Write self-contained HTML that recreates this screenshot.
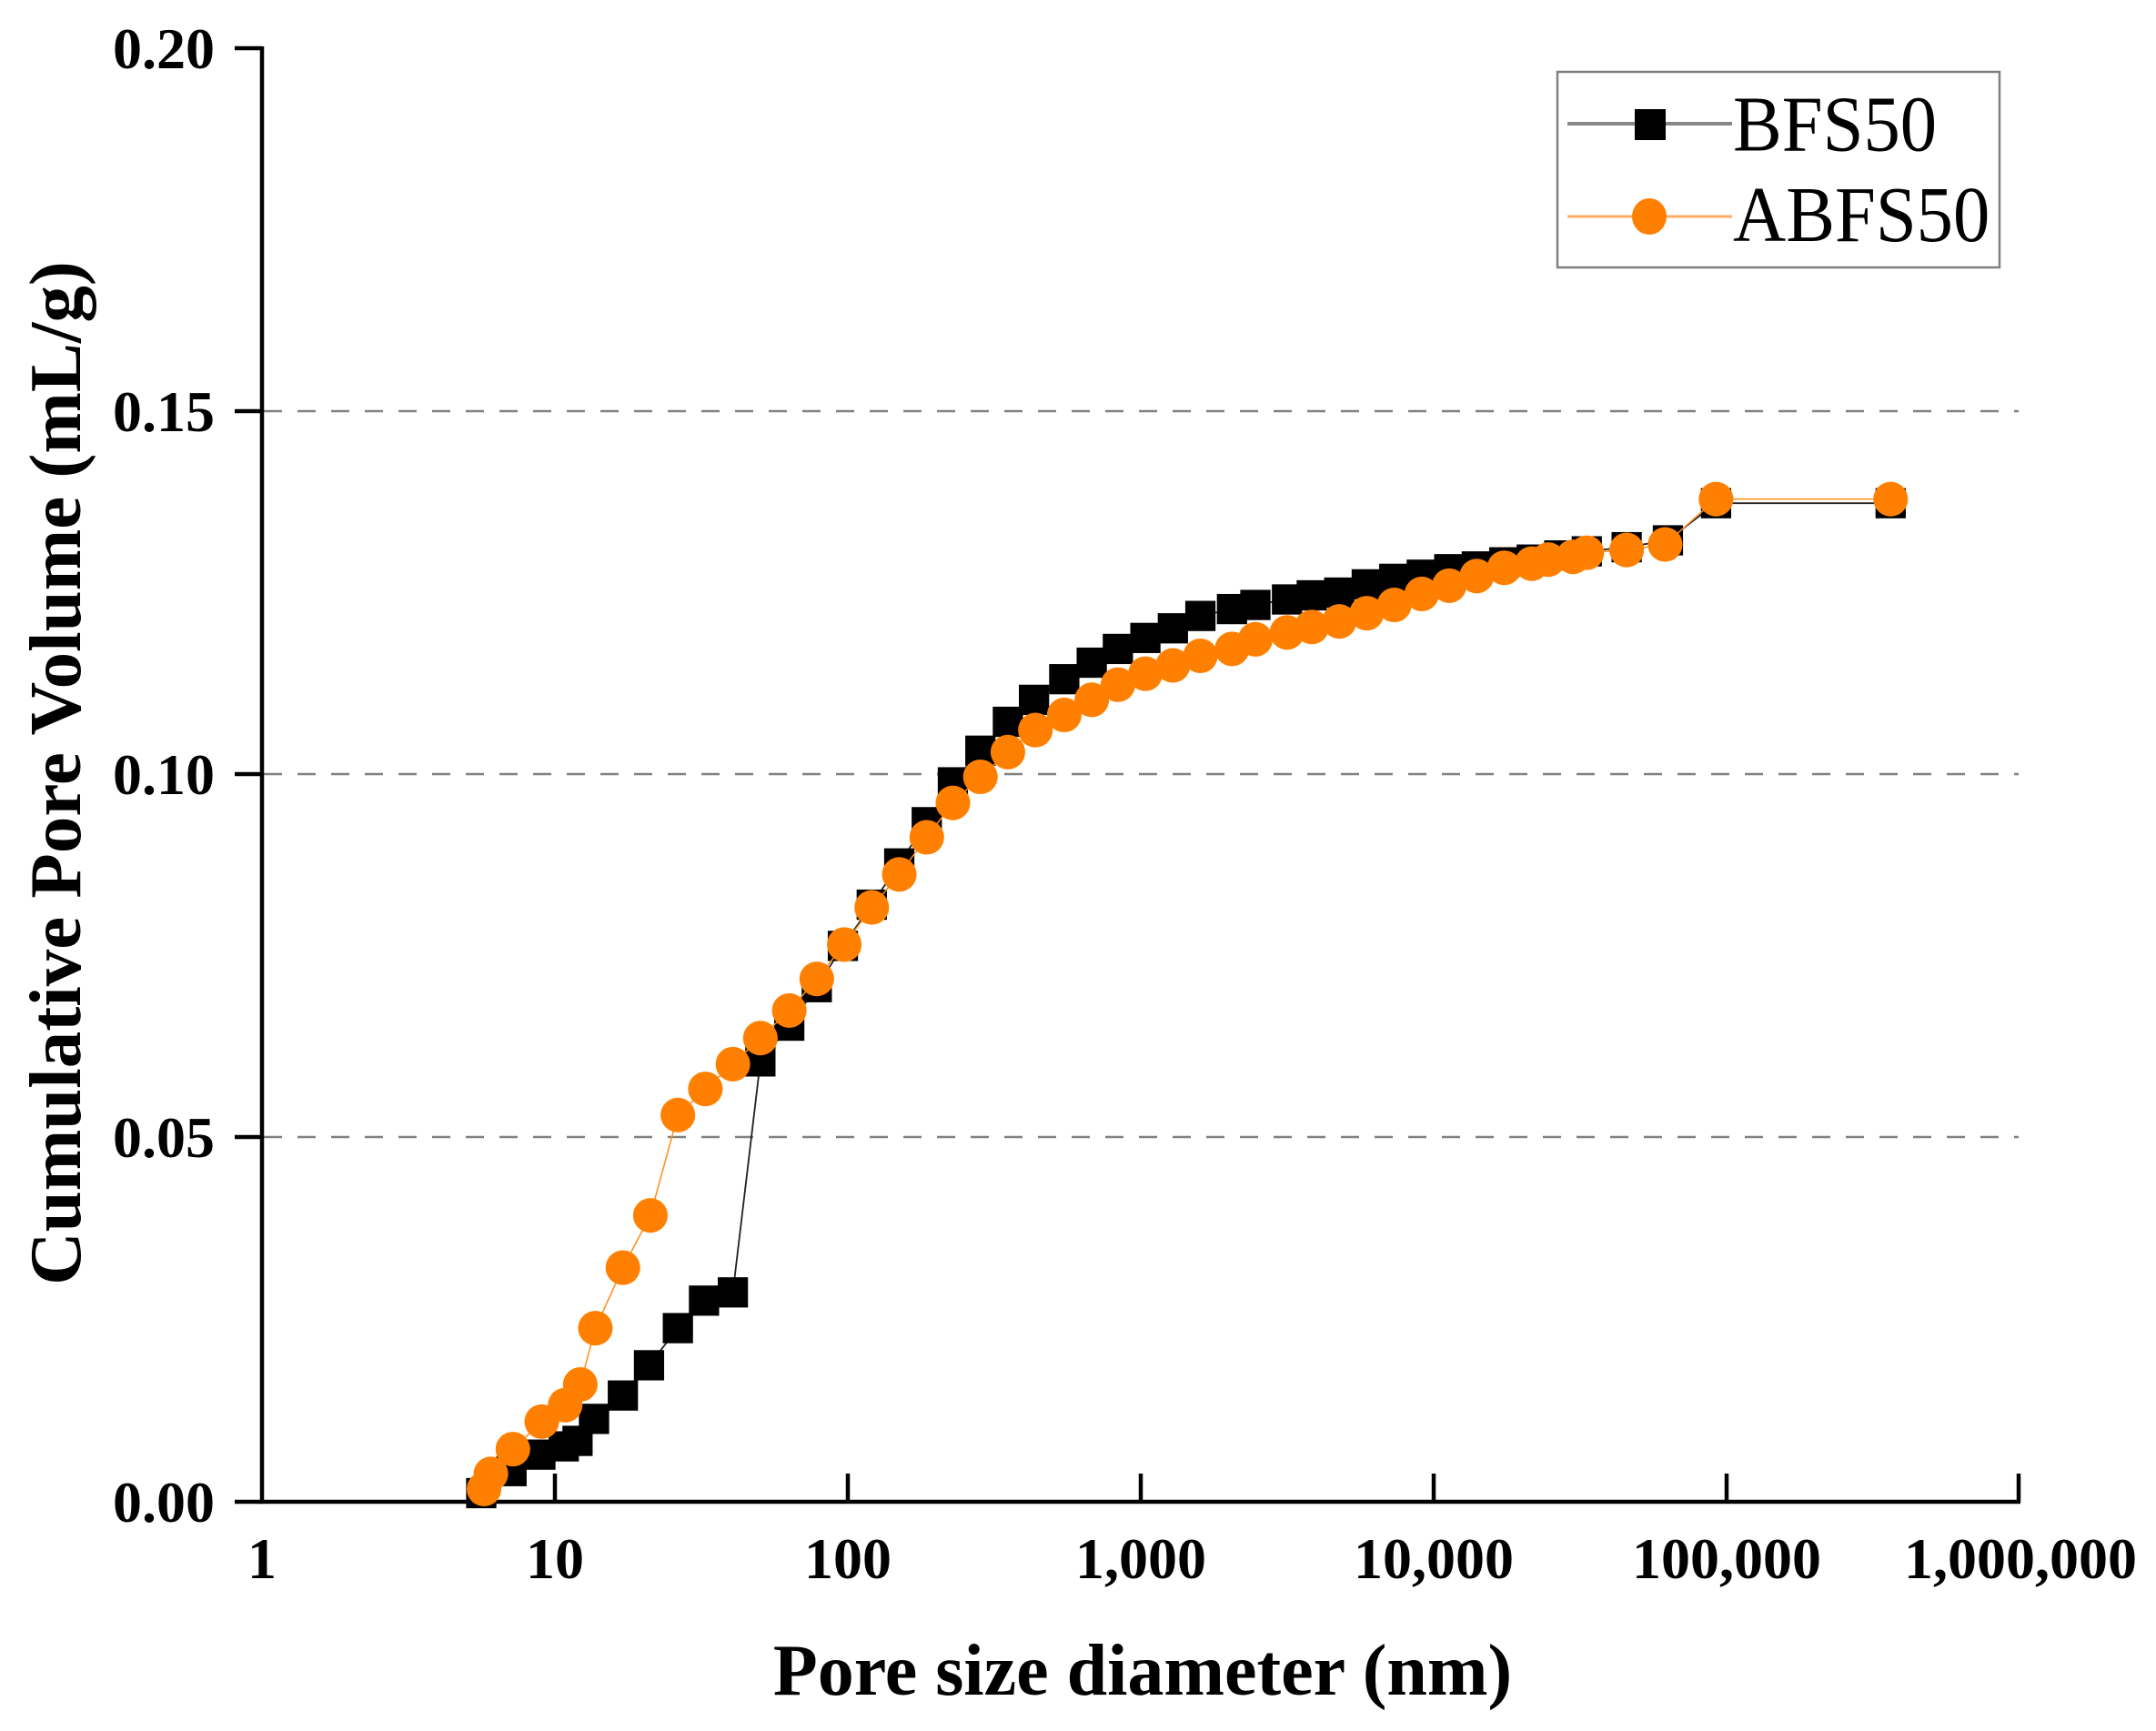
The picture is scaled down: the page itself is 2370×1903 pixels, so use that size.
<!DOCTYPE html>
<html><head><meta charset="utf-8"><style>
html,body{margin:0;padding:0;background:#fff}
svg{display:block}
text{font-family:"Liberation Serif",serif}
</style></head><body>
<svg width="2370" height="1903" viewBox="0 0 2370 1903" xmlns="http://www.w3.org/2000/svg">
<rect width="2370" height="1903" fill="#fff"/>
<g stroke="#808080" stroke-width="2.5" stroke-dasharray="20 17">
<line x1="290" y1="452" x2="2219" y2="452"/>
<line x1="290" y1="851" x2="2219" y2="851"/>
<line x1="290" y1="1250" x2="2219" y2="1250"/>
</g>
<g stroke="#000" stroke-width="4.5" fill="none">
<line x1="288" y1="51" x2="288" y2="1653"/>
<line x1="286" y1="1651" x2="2221" y2="1651"/>
<line x1="258" y1="53" x2="288" y2="53"/>
<line x1="258" y1="452" x2="288" y2="452"/>
<line x1="258" y1="851" x2="288" y2="851"/>
<line x1="258" y1="1250" x2="288" y2="1250"/>
<line x1="258" y1="1651" x2="288" y2="1651"/>
<line x1="610" y1="1651" x2="610" y2="1620"/>
<line x1="932" y1="1651" x2="932" y2="1620"/>
<line x1="1254" y1="1651" x2="1254" y2="1620"/>
<line x1="1576" y1="1651" x2="1576" y2="1620"/>
<line x1="1898" y1="1651" x2="1898" y2="1620"/>
<line x1="2219" y1="1651" x2="2219" y2="1620"/>
</g>
<g font-size="64" font-weight="bold" text-anchor="end">
<text x="236" y="75">0.20</text>
<text x="236" y="474">0.15</text>
<text x="236" y="873">0.10</text>
<text x="236" y="1272">0.05</text>
<text x="236" y="1673">0.00</text>
</g>
<g font-size="64" font-weight="bold" text-anchor="middle">
<text x="288" y="1735">1</text>
<text x="610" y="1735">10</text>
<text x="932" y="1735">100</text>
<text x="1254" y="1735">1,000</text>
<text x="1576" y="1735">10,000</text>
<text x="1898" y="1735">100,000</text>
<text x="2221" y="1735">1,000,000</text>
</g>
<text x="1256" y="1863" font-size="80" font-weight="bold" text-anchor="middle">Pore size diameter (nm)</text>
<text transform="translate(88,850) rotate(-90)" font-size="81" font-weight="bold" text-anchor="middle">Cumulative Pore Volume (mL/g)</text>
<g transform="scale(1.5115)">
<polyline fill="none" stroke="#222" stroke-width="1.2" points="350,1086 372,1070 393,1058 410,1052 420,1048 432,1032 453,1015 472,993 493,966 512,946 533,940 553,772 574,746 594,718 613,688 634,658 654,628 674,598 693,569 713,546 733,525 752,509 774,494 794,482 813,472 833,464 853,457 873,448 896,443 913,440 936,436 954,433 974,431 994,425 1014,421 1034,418 1054,414 1074,412 1094,409 1114,407 1134,404 1154,401 1183,398 1213,393 1248,366 1375,366"/>
<g fill="#000">
<rect x="339" y="1075" width="22" height="22"/><rect x="361" y="1059" width="22" height="22"/><rect x="382" y="1047" width="22" height="22"/><rect x="399" y="1041" width="22" height="22"/><rect x="409" y="1037" width="22" height="22"/><rect x="421" y="1021" width="22" height="22"/><rect x="442" y="1004" width="22" height="22"/><rect x="461" y="982" width="22" height="22"/><rect x="482" y="955" width="22" height="22"/><rect x="501" y="935" width="22" height="22"/><rect x="522" y="929" width="22" height="22"/><rect x="542" y="761" width="22" height="22"/><rect x="563" y="735" width="22" height="22"/><rect x="583" y="707" width="22" height="22"/><rect x="602" y="677" width="22" height="22"/><rect x="623" y="647" width="22" height="22"/><rect x="643" y="617" width="22" height="22"/><rect x="663" y="587" width="22" height="22"/><rect x="682" y="558" width="22" height="22"/><rect x="702" y="535" width="22" height="22"/><rect x="722" y="514" width="22" height="22"/><rect x="741" y="498" width="22" height="22"/><rect x="763" y="483" width="22" height="22"/><rect x="783" y="471" width="22" height="22"/><rect x="802" y="461" width="22" height="22"/><rect x="822" y="453" width="22" height="22"/><rect x="842" y="446" width="22" height="22"/><rect x="862" y="437" width="22" height="22"/><rect x="885" y="432" width="22" height="22"/><rect x="902" y="429" width="22" height="22"/><rect x="925" y="425" width="22" height="22"/><rect x="943" y="422" width="22" height="22"/><rect x="963" y="420" width="22" height="22"/><rect x="983" y="414" width="22" height="22"/><rect x="1003" y="410" width="22" height="22"/><rect x="1023" y="407" width="22" height="22"/><rect x="1043" y="403" width="22" height="22"/><rect x="1063" y="401" width="22" height="22"/><rect x="1083" y="398" width="22" height="22"/><rect x="1103" y="396" width="22" height="22"/><rect x="1123" y="393" width="22" height="22"/><rect x="1143" y="390" width="22" height="22"/><rect x="1172" y="387" width="22" height="22"/><rect x="1202" y="382" width="22" height="22"/><rect x="1237" y="355" width="22" height="22"/><rect x="1364" y="355" width="22" height="22"/>
</g>
<polyline fill="none" stroke="#ff8c1a" stroke-width="1" points="352,1083 357,1072 373,1054 394,1034 411,1022 422,1007 433,966 453,922 473,884 493,811 513,792 533,774 553,755 574,735 594,712 614,687 634,660 654,636 674,609 693,584 713,565 733,547 753,531 774,520 794,509 813,498 833,490 853,484 873,477 896,472 913,465 936,460 954,456 974,452 994,446 1014,440 1034,432 1054,426 1074,419 1094,413 1114,410 1126,407 1144,405 1154,402 1183,400 1211,396 1248,363 1375,363"/>
<g fill="#ff8000">
<circle cx="352" cy="1083" r="12.6"/><circle cx="357" cy="1072" r="12.6"/><circle cx="373" cy="1054" r="12.6"/><circle cx="394" cy="1034" r="12.6"/><circle cx="411" cy="1022" r="12.6"/><circle cx="422" cy="1007" r="12.6"/><circle cx="433" cy="966" r="12.6"/><circle cx="453" cy="922" r="12.6"/><circle cx="473" cy="884" r="12.6"/><circle cx="493" cy="811" r="12.6"/><circle cx="513" cy="792" r="12.6"/><circle cx="533" cy="774" r="12.6"/><circle cx="553" cy="755" r="12.6"/><circle cx="574" cy="735" r="12.6"/><circle cx="594" cy="712" r="12.6"/><circle cx="614" cy="687" r="12.6"/><circle cx="634" cy="660" r="12.6"/><circle cx="654" cy="636" r="12.6"/><circle cx="674" cy="609" r="12.6"/><circle cx="693" cy="584" r="12.6"/><circle cx="713" cy="565" r="12.6"/><circle cx="733" cy="547" r="12.6"/><circle cx="753" cy="531" r="12.6"/><circle cx="774" cy="520" r="12.6"/><circle cx="794" cy="509" r="12.6"/><circle cx="813" cy="498" r="12.6"/><circle cx="833" cy="490" r="12.6"/><circle cx="853" cy="484" r="12.6"/><circle cx="873" cy="477" r="12.6"/><circle cx="896" cy="472" r="12.6"/><circle cx="913" cy="465" r="12.6"/><circle cx="936" cy="460" r="12.6"/><circle cx="954" cy="456" r="12.6"/><circle cx="974" cy="452" r="12.6"/><circle cx="994" cy="446" r="12.6"/><circle cx="1014" cy="440" r="12.6"/><circle cx="1034" cy="432" r="12.6"/><circle cx="1054" cy="426" r="12.6"/><circle cx="1074" cy="419" r="12.6"/><circle cx="1094" cy="413" r="12.6"/><circle cx="1114" cy="410" r="12.6"/><circle cx="1126" cy="407" r="12.6"/><circle cx="1144" cy="405" r="12.6"/><circle cx="1154" cy="402" r="12.6"/><circle cx="1183" cy="400" r="12.6"/><circle cx="1211" cy="396" r="12.6"/><circle cx="1248" cy="363" r="12.6"/><circle cx="1375" cy="363" r="12.6"/>
</g>
</g>
<rect x="1712" y="79" width="486" height="215" fill="#fff" stroke="#808080" stroke-width="2.5"/>
<line x1="1723" y1="136" x2="1904" y2="136" stroke="#888" stroke-width="4"/>
<rect x="1797" y="120" width="34" height="34" fill="#000"/>
<line x1="1723" y1="238" x2="1904" y2="238" stroke="#ffad60" stroke-width="3"/>
<ellipse cx="1813" cy="238" rx="19" ry="20" fill="#ff8000"/>
<g font-size="84" transform="translate(1905,0) scale(0.96,1.04)">
<text x="0" y="159">BFS50</text>
<text x="0" y="255">ABFS50</text>
</g>
</svg>
</body></html>
